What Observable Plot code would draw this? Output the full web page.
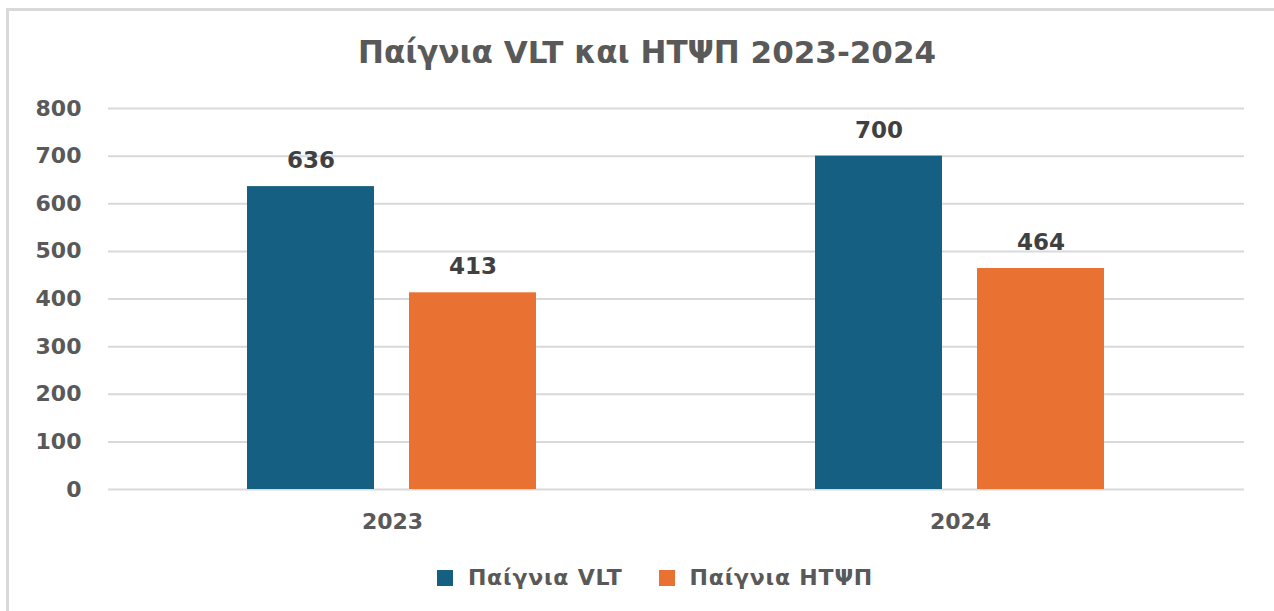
<!DOCTYPE html>
<html>
<head>
<meta charset="utf-8">
<script src="https://cdn.jsdelivr.net/npm/d3@7"></script>
<script src="https://cdn.jsdelivr.net/npm/@observablehq/plot@0.6"></script>
<style>
  html { overflow: hidden; }
  html, body { margin: 0; padding: 0; background: #fff; }
  body { width: 1274px; height: 611px; position: relative; overflow: hidden; font-family: "DejaVu Sans", sans-serif; }
  #topline { position: absolute; left: 6px; top: 8px; width: 1268px; height: 3px; background: #d9d9d9; }
  #leftline { position: absolute; left: 6px; top: 8px; width: 3px; height: 603px; background: #d9d9d9; }
  #title { position: absolute; left: 0; width: 1274px; top: 32px; text-align: center; font-size: 31px; font-weight: bold; color: #595959; line-height: 40px; padding-left: 20px; box-sizing: border-box; }
  #chart { position: absolute; left: 0; top: 90px; }
  #legend { position: absolute; left: 0; width: 1274px; top: 565px; display: flex; justify-content: center; align-items: center; font-size: 22px; font-weight: bold; color: #595959; padding-left: 36px; box-sizing: border-box; letter-spacing: 0.8px; }
  .item { display: flex; align-items: center; margin: 0 18px; }
  .sw { width: 16px; height: 16px; margin-right: 15px; }
</style>
</head>
<body>
<div id="topline"></div>
<div id="leftline"></div>
<div id="title">Παίγνια VLT και ΗΤΨΠ 2023-2024</div>
<div id="chart"></div>
<div id="legend"></div>
<script>
const years = ["2023", "2024"];
const series = ["Παίγνια VLT", "Παίγνια ΗΤΨΠ"];
const vltValues = [636, 700];
const htwpValues = [413, 464];
const colors = ["#156082", "#E97132"];
const yTicks = [0, 100, 200, 300, 400, 500, 600, 700, 800];

const data = [];
years.forEach((yr, i) => {
  data.push({year: yr, series: series[0], value: vltValues[i]});
  data.push({year: yr, series: series[1], value: htwpValues[i]});
});

const chart = Plot.plot({
  width: 1274,
  height: 455,
  marginLeft: 108,
  marginRight: 30,
  marginTop: 18,
  marginBottom: 56,
  style: { fontFamily: "DejaVu Sans, sans-serif", fontSize: "22px", fontWeight: "bold", color: "#595959", background: "transparent" },
  fx: { domain: years, padding: 0, axis: "bottom", label: null, tickSize: 0, tickPadding: 24 },
  x: { domain: series, paddingInner: 0.216, paddingOuter: 0.861, axis: null },
  y: { domain: [0, 800], ticks: yTicks, tickSize: 0, tickPadding: 27, label: null, tickFormat: d => String(d) },
  color: { domain: series, range: colors },
  marks: [
    Plot.ruleY(yTicks, { stroke: "#d9d9d9", strokeWidth: 2 }),
    Plot.barY(data, { fx: "year", x: "series", y: "value", fill: "series" }),
    Plot.text(data, { fx: "year", x: "series", y: "value", text: d => String(d.value), dy: -26, fill: "#404040", fontSize: 23, fontWeight: "bold" })
  ]
});
document.getElementById("chart").appendChild(chart);

const legend = document.getElementById("legend");
series.forEach((s, i) => {
  const item = document.createElement("div");
  item.className = "item";
  const sw = document.createElement("div");
  sw.className = "sw";
  sw.style.background = colors[i];
  const lab = document.createElement("span");
  lab.textContent = s;
  item.appendChild(sw);
  item.appendChild(lab);
  legend.appendChild(item);
});
</script>
</body>
</html>
